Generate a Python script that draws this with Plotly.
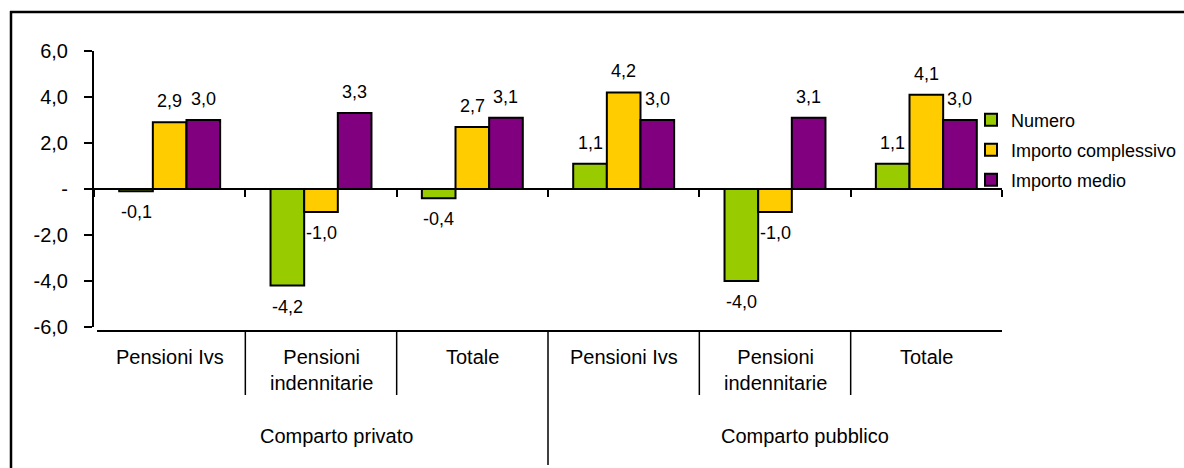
import plotly.graph_objects as go

# ---- data -------------------------------------------------------------
categories = ["Pensioni Ivs", "Pensioni<br>indennitarie", "Totale",
              "Pensioni Ivs", "Pensioni<br>indennitarie", "Totale"]
groups = ["Comparto privato", "Comparto pubblico"]
group_sizes = [3, 3]

series_names = ["Numero", "Importo complessivo", "Importo medio"]
numero = [-0.1, -4.2, -0.4, 1.1, -4.0, 1.1]
importo_complessivo = [2.9, -1.0, 2.7, 4.2, -1.0, 4.1]
importo_medio = [3.0, 3.3, 3.1, 3.0, 3.1, 3.0]

y_ticks = [-6, -4, -2, 0, 2, 4, 6]

# ---- styling / layout constants --------------------------------------
colors = ["#99CC00", "#FFCC00", "#800080"]
FONT = "Liberation Sans, Arial, sans-serif"
W, H = 1184, 468
L, R, T, B = 94, 1002, 51, 327          # plot area in pixels
BARGAP = 0.333


def px_x(p):
    return (p - L) / (R - L)


def px_y(p):
    return (B - p) / (B - T)


def it_num(v):
    return f"{v:.1f}".replace(".", ",")


def tick_text(v):
    return "-" if v == 0 else it_num(v)


series = [numero, importo_complessivo, importo_medio]
xs = list(range(len(categories)))
legend_ids = ["legend", "legend2", "legend3"]

fig = go.Figure()
for name, vals, col, lg in zip(series_names, series, colors, legend_ids):
    fig.add_trace(go.Bar(
        x=xs, y=vals, name=name, legend=lg,
        marker=dict(color=col, line=dict(color="black", width=2)),
        hovertemplate="%{y:.1f}<extra>" + name + "</extra>",
    ))

annotations = []
# value labels above / below each bar
bar_w = (1 - BARGAP) / len(series)
for k, vals in enumerate(series):
    off = (k - (len(series) - 1) / 2) * bar_w
    for i, v in enumerate(vals):
        annotations.append(dict(
            x=i + off, y=v, xref="x", yref="y", text=it_num(v),
            showarrow=False, yanchor="middle", yshift=21 if v >= 0 else -21,
            font=dict(family=FONT, size=18, color="black"),
        ))

# category labels under the chart
for i, c in enumerate(categories):
    annotations.append(dict(
        x=i, y=px_y(344), xref="x", yref="paper", text=c, showarrow=False,
        yanchor="top", align="center",
        font=dict(family=FONT, size=20, color="black"),
    ))

# group labels
group_label_x = [1.1, 4.2]
for gx, g in zip(group_label_x, groups):
    annotations.append(dict(
        x=gx, y=px_y(436), xref="x", yref="paper", text=g, showarrow=False,
        yanchor="middle", font=dict(family=FONT, size=20, color="black"),
    ))

shapes = []
# outer frame (left and top edges)
frame = dict(type="line", xref="paper", yref="paper",
             line=dict(color="black", width=2.5))
shapes.append(dict(frame, x0=px_x(11), x1=px_x(11), y0=px_y(11), y1=px_y(480)))
shapes.append(dict(frame, x0=px_x(10), x1=px_x(1200), y0=px_y(12), y1=px_y(12)))

# category axis line at the bottom
shapes.append(dict(type="line", xref="x", yref="paper", x0=-0.48, x1=5.55,
                   y0=px_y(331), y1=px_y(331), line=dict(color="black", width=2)))

# dividers between categories and between groups
n = len(categories)
bounds = []
acc = 0
for s in group_sizes[:-1]:
    acc += s
    bounds.append(acc - 0.5)
for b in [i + 0.5 for i in range(n - 1)]:
    bottom = 465 if b in bounds else 395
    shapes.append(dict(type="line", xref="x", yref="paper", x0=b, x1=b,
                       y0=px_y(331), y1=px_y(bottom),
                       line=dict(color="black", width=1.5)))

legend_style = dict(
    xanchor="left", yanchor="middle", bgcolor="rgba(0,0,0,0)",
    borderwidth=0, font=dict(family=FONT, size=18, color="black"),
    x=px_x(971),
)

fig.update_layout(
    width=W, height=H,
    margin=dict(l=L, r=W - R, t=T, b=H - B, pad=0, autoexpand=False),
    paper_bgcolor="white", plot_bgcolor="white",
    barmode="group", bargap=BARGAP, bargroupgap=0,
    font=dict(family=FONT, size=20, color="black"),
    showlegend=True,
    legend=dict(legend_style, y=px_y(120)),
    legend2=dict(legend_style, y=px_y(150)),
    legend3=dict(legend_style, y=px_y(180)),
    xaxis=dict(
        range=[-0.5, n - 0.5], anchor="free", position=0.5,
        showline=True, linecolor="black", linewidth=2,
        ticks="outside", ticklen=7, tickwidth=2, tickcolor="black",
        tickvals=[i - 0.5 for i in range(n + 1)],
        showticklabels=False, showgrid=False, zeroline=False, fixedrange=True,
    ),
    yaxis=dict(
        range=[-6, 6], tickvals=y_ticks, ticktext=[tick_text(v) for v in y_ticks],
        showline=True, linecolor="black", linewidth=2,
        ticks="outside", ticklen=8, tickwidth=2, tickcolor="black",
        ticklabelstandoff=12, showgrid=False, zeroline=False,
        tickfont=dict(family=FONT, size=20, color="black"), fixedrange=True,
    ),
    annotations=annotations,
    shapes=shapes,
)

fig.write_html("out.html")
